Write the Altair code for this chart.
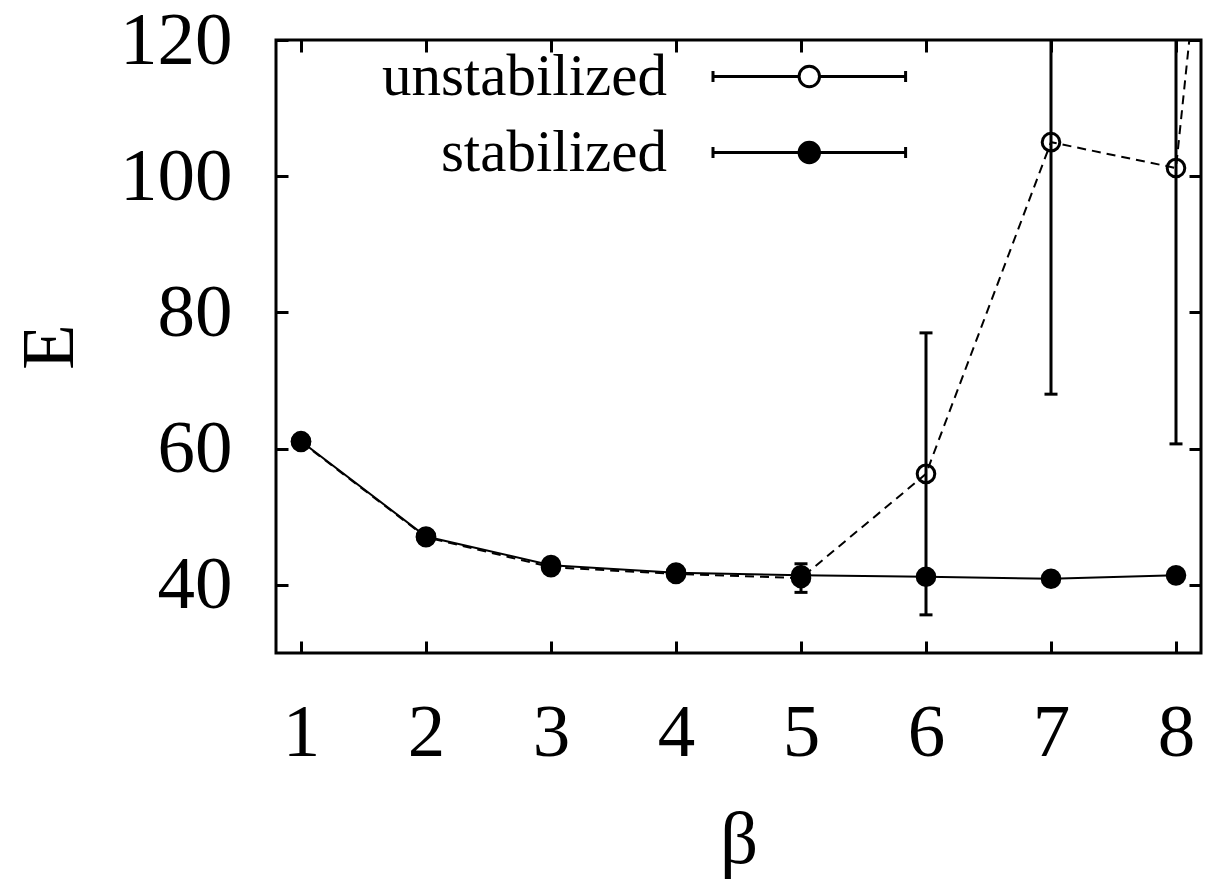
import altair as alt
import pandas as pd

# ---- data ----
series_names = ["unstabilized", "stabilized"]

stab_beta = [1, 2, 3, 4, 5, 6, 7, 8]
stab_E = [61.1, 47.1, 42.9, 41.8, 41.4, 41.2, 40.9, 41.4]
stab_err = [0.3, 0.3, 0.3, 0.3, 0.3, 0.3, 0.3, 0.3]

unstab_beta = [1, 2, 3, 4, 5, 6, 7, 8, 9]
unstab_E = [61.0, 47.0, 42.6, 41.6, 41.0, 56.3, 105.0, 101.2, 277.8]
unstab_err = [0.4, 0.4, 0.4, 0.4, 2.1, 20.7, 37.0, 40.5, 0.0]

x_ticks = [1, 2, 3, 4, 5, 6, 7, 8]
y_ticks = [40, 60, 80, 100, 120]

rows = []
for b, e, d in zip(unstab_beta, unstab_E, unstab_err):
    rows.append({"series": "unstabilized", "beta": b, "E": e, "lo": e - d, "hi": e + d})
for b, e, d in zip(stab_beta, stab_E, stab_err):
    rows.append({"series": "stabilized", "beta": b, "E": e, "lo": e - d, "hi": e + d})
df = pd.DataFrame(rows)

FONT = "Liberation Serif"
xs = alt.Scale(domain=[0.8, 8.2], nice=False, zero=False)
ys = alt.Scale(domain=[30, 120], nice=False, zero=False)

base = alt.Chart(df)

# legend symbol: horizontal error bar with a circle in the middle,
# shifted to the right of the label (path units = 10 px)
cx, half, r, cap = 17.18, 9.63, 1.02, 0.55
sym = (
    f"M{cx-half:.2f},0H{cx-r:.2f} M{cx+r:.2f},0H{cx+half:.2f} "
    f"M{cx-half:.2f},{-cap}V{cap} M{cx+half:.2f},{-cap}V{cap} "
    f"M{cx+r:.2f},0 A{r},{r} 0 1,1 {cx-r:.2f},0 A{r},{r} 0 1,1 {cx+r:.2f},0 Z"
)

line_unstab = base.transform_filter(alt.datum.series == "unstabilized").mark_line(
    color="black", strokeWidth=2, strokeDash=[9, 6], clip=True
).encode(
    x=alt.X("beta:Q", scale=xs, axis=None),
    y=alt.Y("E:Q", scale=ys, axis=None),
)

line_stab = base.transform_filter(alt.datum.series == "stabilized").mark_line(
    color="black", strokeWidth=2, clip=True
).encode(
    x=alt.X("beta:Q", scale=xs,
            axis=alt.Axis(orient="top", values=x_ticks, labels=False, title=None,
                          offset=-12, tickSize=12, tickWidth=3, domain=False, grid=False)),
    y=alt.Y("E:Q", scale=ys,
            axis=alt.Axis(orient="right", values=y_ticks, labels=False, title=None,
                          offset=-12, tickSize=12, tickWidth=3, domain=False, grid=False)),
)

err_rules = base.transform_filter(alt.datum.series == "unstabilized").mark_rule(
    color="black", strokeWidth=3, clip=True
).encode(
    x=alt.X("beta:Q", scale=xs, axis=None),
    y=alt.Y("lo:Q", scale=ys, axis=None),
    y2="hi:Q",
)

err_caps = base.transform_fold(["lo", "hi"], as_=["end", "val"]).mark_tick(
    color="black", thickness=3, size=13, orient="horizontal", opacity=1, clip=True
).encode(
    x=alt.X("beta:Q", scale=xs, axis=None),
    y=alt.Y("val:Q", scale=ys, axis=None),
)

points = base.mark_point(
    shape="circle", filled=True, size=310, stroke="black", strokeWidth=3,
    opacity=1, clip=True
).encode(
    x=alt.X("beta:Q", scale=xs,
            axis=alt.Axis(orient="bottom", values=x_ticks, title="β",
                          offset=-12, tickSize=12, tickWidth=3, domain=False, grid=False,
                          labelBaseline="alphabetic", labelPadding=102,
                          titleBaseline="alphabetic", titleY=221)),
    y=alt.Y("E:Q", scale=ys,
            axis=alt.Axis(orient="left", values=y_ticks, title="E",
                          offset=-12, tickSize=12, tickWidth=3, domain=False, grid=False,
                          labelPadding=44, titleAngle=270, titleBaseline="alphabetic",
                          titleAlign="center", titleX=-216, titleY=306.5)),
    fill=alt.Fill(
        "series:N",
        scale=alt.Scale(domain=series_names, range=["transparent", "black"]),
        legend=alt.Legend(
            orient="none", legendX=332, legendY=7, title=None, padding=0,
            symbolType=sym, symbolSize=400, symbolStrokeColor="black",
            symbolStrokeWidth=3, symbolOpacity=1,
            labelFont=FONT, labelFontSize=59, labelColor="black",
            labelAlign="right", labelOffset=0, labelLimit=0, rowPadding=16,
        ),
    ),
)

chart = alt.layer(line_unstab, line_stab, err_rules, err_caps, points).resolve_axis(
    x="independent", y="independent"
).properties(
    width=925, height=613,
    autosize=alt.AutoSizeParams(type="none"),
    padding={"left": 276, "top": 40, "right": 5, "bottom": 229},
    background="white",
).configure_view(
    stroke="black", strokeWidth=3
).configure_axis(
    labelFont=FONT, labelFontSize=75, labelColor="black",
    titleFont=FONT, titleFontSize=75, titleFontWeight="normal", titleColor="black",
    tickColor="black",
)

chart.save("out.html", embed_options={"renderer": "svg", "actions": False})
